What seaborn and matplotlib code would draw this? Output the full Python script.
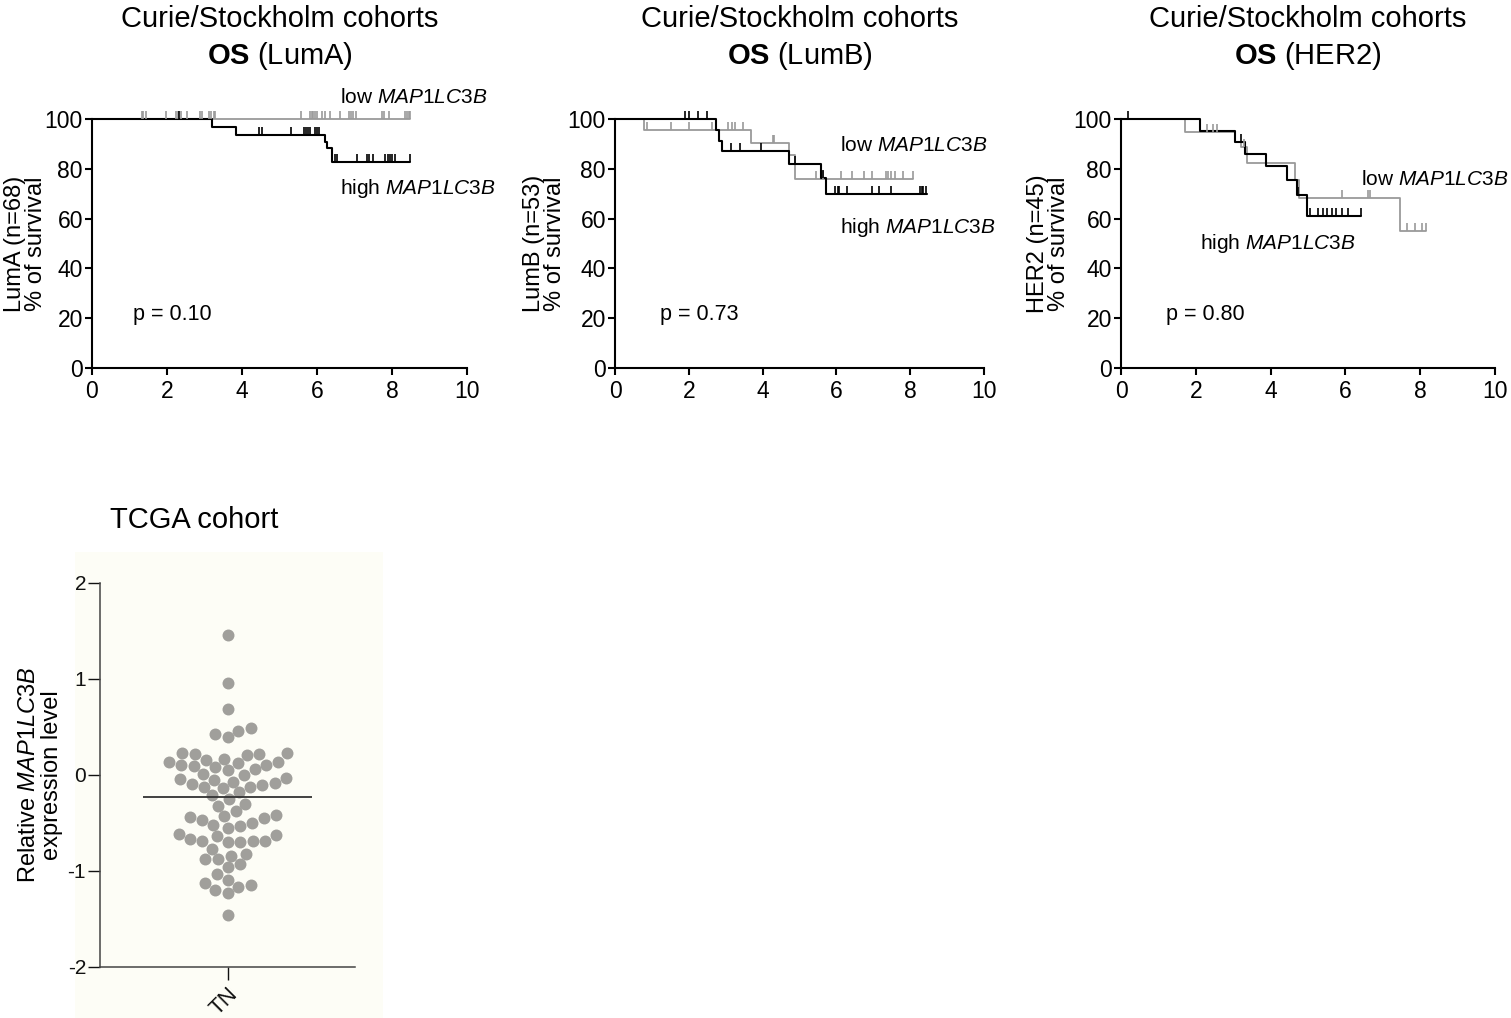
import numpy as np
import pandas as pd
import matplotlib
matplotlib.use("Agg")
import matplotlib.pyplot as plt
from matplotlib.path import Path
from matplotlib.patches import Rectangle
import seaborn as sns

sns.set_style("ticks")
plt.rcParams['font.family'] = ['Liberation Sans', 'DejaVu Sans']
plt.rcParams['mathtext.fontset'] = 'custom'
plt.rcParams['mathtext.rm'] = 'Liberation Sans'
plt.rcParams['mathtext.it'] = 'Liberation Sans:italic'
plt.rcParams['mathtext.bf'] = 'Liberation Sans:bold'
plt.rcParams['axes.unicode_minus'] = False
plt.rcParams['text.color'] = 'black'
plt.rcParams['axes.labelcolor'] = 'black'

# ---------------- data ----------------
panel_names = ["LumA", "LumB", "HER2"]
panel_n = [68, 53, 45]
p_values = ["0.10", "0.73", "0.80"]

luma_low_t = [0, 8.48]
luma_low_s = [100, 100]
luma_low_cens = [1.32, 1.37, 1.43, 1.96, 2.24, 2.28, 2.37, 2.52, 2.88, 2.93, 3.11, 3.16,
                 3.24, 3.28, 5.56, 5.81, 5.86, 5.90, 5.95, 6.01, 6.12, 6.21, 6.35, 6.60,
                 6.84, 6.91, 6.95, 7.04, 7.72, 7.79, 7.93, 8.35, 8.39, 8.44, 8.48]
luma_high_t = [0, 3.19, 3.84, 6.21, 6.26, 6.41, 8.48]
luma_high_s = [100, 96.7, 93.4, 90.9, 88.2, 82.9, 82.9]
luma_high_cens = [2.33, 4.44, 4.52, 5.31, 5.65, 5.71, 5.76, 5.80, 5.95, 6.01, 6.04, 6.48,
                  6.54, 7.06, 7.32, 7.38, 7.50, 7.81, 7.88, 7.95, 8.00, 8.08, 8.48]

lumb_low_t = [0, 0.79, 3.68, 4.72, 4.88, 8.08]
lumb_low_s = [100, 95.6, 90.2, 85.5, 75.8, 75.8]
lumb_low_cens = [0.88, 1.52, 2.01, 2.62, 3.05, 3.16, 3.25, 3.46, 4.27, 4.31, 5.44, 5.63,
                 6.12, 6.41, 6.75, 6.96, 7.34, 7.41, 7.47, 7.59, 7.80, 8.08]
lumb_high_t = [0, 2.73, 2.82, 2.89, 4.72, 5.57, 5.72, 8.45]
lumb_high_s = [100, 95.6, 91.3, 87.0, 81.8, 76.2, 69.8, 69.8]
lumb_high_cens = [1.90, 2.01, 2.26, 2.48, 3.14, 3.39, 3.95, 4.88, 5.63, 5.96, 6.03, 6.08,
                  6.28, 6.96, 7.16, 7.48, 8.27, 8.31, 8.36, 8.43]

her2_low_t = [0, 1.71, 3.05, 3.20, 3.36, 4.65, 4.77, 7.46, 8.16]
her2_low_s = [100, 94.9, 90.6, 88.9, 82.2, 75.5, 68.4, 55.1, 55.1]
her2_low_cens = [2.31, 2.45, 2.58, 3.28, 5.92, 6.61, 6.66, 7.64, 7.86, 8.04, 8.16]
her2_high_t = [0, 2.11, 3.05, 3.32, 3.88, 4.43, 4.70, 4.98, 6.43]
her2_high_s = [100, 95.3, 90.6, 85.9, 81.1, 75.5, 69.5, 61.2, 61.2]
her2_high_cens = [0.20, 2.11, 3.20, 3.88, 4.72, 5.05, 5.28, 5.41, 5.51, 5.63, 5.76, 5.90,
                  6.08, 6.43]

x_ticks = [0, 2, 4, 6, 8, 10]
y_ticks = [0, 20, 40, 60, 80, 100]

tn_values = [1.46, 0.96, 0.69, 0.49, 0.43, 0.40, 0.46,
             0.23, 0.22, 0.17, 0.14, 0.12, 0.14, 0.16, 0.21, 0.22, 0.23,
             0.10, 0.09, 0.06, 0.01, -0.03, -0.05, -0.07, -0.04, 0.00, 0.05, 0.08, 0.10,
             -0.08, -0.10, -0.12, -0.18, -0.25, -0.21, -0.14, -0.12, -0.09,
             -0.32, -0.30,
             -0.42, -0.44, -0.45, -0.43, -0.38,
             -0.50, -0.53, -0.61, -0.64, -0.63, -0.55, -0.52, -0.47,
             -0.69, -0.69, -0.70, -0.70, -0.69, -0.67,
             -0.77, -0.82, -0.88, -0.84, -0.88, -0.93, -0.96, -1.03,
             -1.09, -1.15, -1.20, -1.23, -1.17, -1.13,
             -1.46]
tn_category = "TN"
tn_ticks = [-2, -1, 0, 1, 2]

# ---------------- layout ----------------
W, H = 1511, 1018
fig = plt.figure(figsize=(W / 100, H / 100), dpi=100)


def px_axes(x0, y_top, x1, y_bot):
    return fig.add_axes([x0 / W, 1 - y_bot / H, (x1 - x0) / W, (y_bot - y_top) / H])


GRAY = "#9a9a9a"
BLACK = "#000000"
tick_marker = Path([(0, 0), (0, 1)])

panels = [
    dict(x0=92, x1=467, low=(luma_low_t, luma_low_s, luma_low_cens),
         high=(luma_high_t, luma_high_s, luma_high_cens), ylab_x=-0.12,
         low_lab=(6.61, 108.8), high_lab=(6.61, 71.9), p_lab=(1.09, 21.3)),
    dict(x0=615, x1=984, low=(lumb_low_t, lumb_low_s, lumb_low_cens),
         high=(lumb_high_t, lumb_high_s, lumb_high_cens), ylab_x=-0.133,
         low_lab=(6.10, 89.2), high_lab=(6.10, 56.6), p_lab=(1.22, 21.3)),
    dict(x0=1121, x1=1495, low=(her2_low_t, her2_low_s, her2_low_cens),
         high=(her2_high_t, her2_high_s, her2_high_cens), ylab_x=-0.136,
         low_lab=(6.42, 75.9), high_lab=(2.11, 50.2), p_lab=(1.20, 21.3)),
]


def censor_y(t, s, c):
    t = np.asarray(t); s = np.asarray(s)
    idx = np.searchsorted(t, np.asarray(c), side="right") - 1
    idx = np.clip(idx, 0, len(s) - 1)
    return s[idx]


for i, pd_ in enumerate(panels):
    ax = px_axes(pd_["x0"], 119, pd_["x1"], 368)
    for key, col, lw in [("low", GRAY, 1.3), ("high", BLACK, 1.5)]:
        t, s, c = pd_[key]
        sns.lineplot(x=t, y=s, ax=ax, drawstyle="steps-post", estimator=None, sort=False,
                     color=col, linewidth=lw, clip_on=False)
        sns.scatterplot(x=c, y=censor_y(t, s, c), ax=ax, marker=tick_marker, s=130,
                        color=col, edgecolor=col, linewidth=1.2, clip_on=False, zorder=3)
    ax.set_xlim(0, 10)
    ax.set_ylim(0, 100)
    ax.set_xticks(x_ticks)
    ax.set_yticks(y_ticks)
    ax.tick_params(labelsize=16.5, length=5, width=1.5, colors="black")
    ax.tick_params(axis="y", pad=1.5)
    ax.tick_params(axis="x", pad=4)
    for sp in ["top", "right"]:
        ax.spines[sp].set_visible(False)
    for sp in ["left", "bottom"]:
        ax.spines[sp].set_linewidth(1.5)
        ax.spines[sp].set_color("black")
    ax.set_ylabel(f"{panel_names[i]} (n={panel_n[i]})\n% of survival", fontsize=17,
                  linespacing=0.95)
    ax.yaxis.set_label_coords(pd_["ylab_x"], 0.5)
    ax.text(*pd_["low_lab"], r"low $\it{MAP1LC3B}$", fontsize=15, va="center", ha="left")
    ax.text(*pd_["high_lab"], r"high $\it{MAP1LC3B}$", fontsize=15, va="center", ha="left")
    ax.text(*pd_["p_lab"], f"p = {p_values[i]}", fontsize=15.5, va="center", ha="left")
    xc = (pd_["x0"] + pd_["x1"]) / 2 / W
    fig.text(xc, 1 - 19 / H, "Curie/Stockholm cohorts", fontsize=21, ha="center", va="center")
    fig.text(xc, 1 - 56 / H, r"$\bf{OS}$ (" + panel_names[i] + ")", fontsize=21,
             ha="center", va="center")

# ---------------- TCGA swarm ----------------
fig.patches.append(Rectangle((75 / W, 0), (383 - 75) / W, 1 - 552 / H,
                             transform=fig.transFigure, facecolor="#fdfdf6",
                             edgecolor="none", zorder=-5))
ax = px_axes(100, 583, 355, 967)
ax.set_facecolor("none")
ax.set_zorder(2)
df = pd.DataFrame({"group": [tn_category] * len(tn_values), "value": tn_values})
sns.swarmplot(data=df, x="group", y="value", ax=ax, color="#a09f9b", size=8.6,
              linewidth=0, clip_on=False)
med = float(np.median(tn_values))
ax.hlines(med, -0.33, 0.33, color="#333333", linewidth=1.3, zorder=4)
ax.set_xlim(-0.5, 0.5)
ax.set_ylim(-2, 2)
ax.set_yticks(tn_ticks)
ax.set_yticklabels([str(v) for v in tn_ticks])
ax.set_xlabel("")
ax.set_ylabel(r"Relative $\it{MAP1LC3B}$" + "\nexpression level", fontsize=17,
              linespacing=1.05)
ax.yaxis.set_label_coords(-0.145, 0.5)
ax.tick_params(axis="y", labelsize=15, length=9, width=1, pad=1, colors="#111111")
ax.tick_params(axis="x", labelsize=16, length=9, width=1, pad=3, colors="#111111")
for lab in ax.get_xticklabels():
    lab.set_rotation(45)
    lab.set_ha("right")
    lab.set_rotation_mode("anchor")
for sp in ["top", "right"]:
    ax.spines[sp].set_visible(False)
for sp in ["left", "bottom"]:
    ax.spines[sp].set_linewidth(1.1)
    ax.spines[sp].set_color("#444444")
fig.text(194 / W, 1 - 520 / H, "TCGA cohort", fontsize=21, ha="center", va="center")

fig.savefig("out.png", dpi=100)
